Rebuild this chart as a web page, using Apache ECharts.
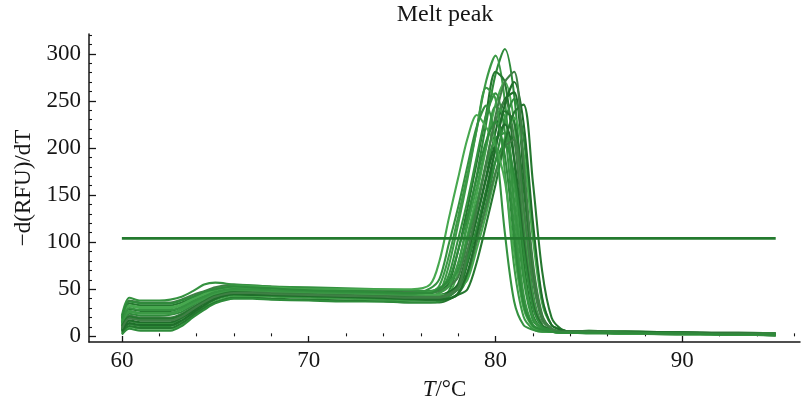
<!DOCTYPE html>
<html>
<head>
<meta charset="utf-8">
<script src="https://cdn.jsdelivr.net/npm/echarts@6/dist/echarts.min.js"></script>
<style>
  html, body { margin: 0; padding: 0; background: #fff; }
  #chart { width: 802px; height: 406px; }
</style>
</head>
<body>
<div id="chart"></div>
<script>
// Temperature grid (°C) shared by every melt curve
const temps = [60, 60.4, 61, 62, 62.6, 63.2, 63.8, 64.4, 65, 66, 67, 68, 70, 72, 74, 75.5, 76.5,
  77, 77.5, 78, 78.5, 79, 79.5, 80, 80.5, 81, 81.5, 82, 82.5, 83, 83.5, 84, 85, 87, 90, 93, 95];

// -d(RFU)/dT for each well
const well01 = [10, 24, 22, 22, 23, 26, 33, 40, 46, 50, 50, 49, 47, 46, 44, 43, 42, 43, 48, 76, 122, 171, 226, 278, 305, 256, 137, 46, 12, 7, 5, 5, 4, 4, 3, 3, 2];
const well02 = [6, 16, 14, 14, 14, 19, 27, 35, 41, 46, 46, 45, 44, 43, 42, 41, 41, 46, 75, 119, 167, 221, 271, 298, 250, 134, 45, 12, 7, 5, 5, 4, 4, 3, 3, 2, 2];
const well03 = [18, 35, 33, 33, 33, 36, 41, 47, 51, 54, 53, 52, 50, 49, 48, 47, 46, 49, 56, 91, 136, 185, 236, 281, 270, 187, 80, 23, 8, 5, 5, 4, 5, 4, 4, 3, 3];
const well04 = [3, 10, 8, 8, 8, 13, 22, 30, 37, 42, 42, 42, 41, 40, 39, 38, 38, 39, 44, 68, 108, 151, 200, 246, 270, 227, 122, 41, 12, 7, 5, 4, 4, 3, 2, 2, 1];
const well05 = [14, 29, 27, 27, 27, 31, 37, 43, 47, 51, 50, 50, 48, 47, 46, 45, 44, 44, 47, 54, 84, 126, 170, 217, 252, 259, 173, 73, 21, 8, 5, 5, 5, 5, 4, 3, 3];
const well06 = [8, 20, 18, 18, 18, 22, 30, 37, 43, 47, 47, 46, 45, 44, 43, 42, 42, 47, 65, 103, 144, 191, 235, 258, 217, 116, 39, 12, 7, 5, 4, 4, 4, 3, 3, 2, 2];
const well07 = [20, 38, 36, 36, 36, 39, 44, 48, 52, 55, 54, 53, 51, 50, 49, 48, 47, 48, 53, 63, 100, 140, 185, 228, 250, 210, 113, 38, 12, 7, 5, 5, 6, 5, 4, 4, 3];
const well08 = [5, 13, 11, 11, 11, 16, 24, 32, 39, 44, 44, 43, 42, 41, 40, 39, 39, 39, 40, 45, 63, 101, 141, 186, 229, 252, 212, 113, 38, 12, 7, 5, 5, 4, 3, 3, 2];
const well09 = [12, 27, 25, 25, 25, 29, 35, 41, 45, 49, 48, 48, 46, 45, 44, 43, 43, 46, 53, 78, 118, 159, 203, 244, 233, 162, 69, 20, 8, 5, 5, 4, 4, 4, 3, 2, 2];
const well10 = [4, 11, 9, 9, 9, 14, 22, 30, 36, 41, 41, 40, 39, 38, 37, 36, 36, 36, 39, 46, 77, 115, 156, 199, 239, 228, 158, 67, 19, 8, 5, 5, 5, 4, 3, 3, 2];
const well11 = [16, 32, 30, 30, 30, 33, 39, 44, 49, 52, 51, 50, 48, 47, 46, 45, 44, 44, 45, 50, 60, 93, 130, 172, 211, 232, 195, 104, 35, 12, 7, 5, 6, 5, 4, 3, 3];
const well12 = [7, 17, 15, 15, 15, 20, 27, 35, 41, 45, 45, 44, 43, 42, 41, 40, 40, 41, 46, 56, 90, 126, 167, 205, 225, 189, 101, 34, 11, 7, 5, 4, 4, 3, 3, 2, 1];
const well13 = [22, 41, 38, 38, 39, 42, 48, 55, 57, 55, 54, 53, 52, 51, 50, 49, 48, 51, 58, 70, 105, 142, 181, 210, 216, 144, 61, 17, 8, 5, 4, 4, 4, 4, 3, 3, 2];
const well14 = [9, 22, 20, 20, 20, 24, 31, 38, 44, 48, 47, 47, 45, 44, 43, 42, 42, 42, 45, 52, 67, 101, 137, 174, 201, 209, 139, 59, 17, 8, 5, 5, 5, 4, 4, 3, 2];
const well15 = [2, 8, 6, 6, 6, 11, 20, 28, 35, 40, 40, 39, 38, 37, 37, 36, 36, 37, 42, 51, 82, 114, 151, 186, 204, 171, 92, 31, 10, 7, 5, 4, 3, 3, 2, 2, 1];
const well16 = [13, 26, 24, 24, 24, 28, 34, 40, 45, 49, 49, 48, 47, 46, 45, 45, 47, 54, 85, 127, 172, 220, 264, 252, 175, 74, 21, 8, 5, 5, 4, 4, 4, 3, 3, 2, 2];
const well17 = [11, 21, 19, 19, 19, 23, 30, 37, 43, 47, 46, 45, 44, 43, 42, 41, 40, 40, 40, 44, 50, 79, 119, 161, 206, 238, 246, 164, 69, 20, 8, 5, 5, 5, 4, 3, 3];
const well18 = [17, 33, 31, 31, 31, 34, 40, 45, 50, 53, 53, 52, 50, 50, 50, 50, 55, 80, 125, 168, 210, 235, 222, 202, 165, 90, 30, 10, 6, 5, 4, 4, 4, 3, 3, 2, 2];
const well19 = [6, 14, 12, 12, 12, 17, 25, 33, 40, 45, 44, 44, 43, 42, 41, 40, 39, 39, 40, 45, 68, 108, 151, 200, 246, 270, 227, 122, 41, 12, 7, 5, 5, 4, 4, 3, 2];
const well20 = [15, 30, 28, 28, 28, 31, 37, 42, 47, 50, 50, 49, 48, 47, 46, 45, 51, 61, 98, 137, 181, 223, 245, 206, 110, 37, 12, 7, 5, 5, 4, 4, 4, 3, 3, 2, 2];
const well21 = [8, 19, 17, 17, 17, 21, 29, 36, 42, 46, 46, 45, 44, 43, 42, 41, 41, 41, 44, 51, 90, 135, 183, 234, 270, 281, 186, 79, 23, 8, 5, 5, 5, 4, 3, 3, 2];
const well22 = [19, 37, 35, 35, 35, 38, 42, 47, 50, 53, 52, 51, 49, 48, 47, 46, 46, 51, 60, 91, 128, 169, 207, 228, 192, 103, 34, 11, 7, 5, 4, 4, 4, 4, 3, 2, 2];

const wells = [well01, well02, well03, well04, well05, well06, well07, well08, well09, well10, well11,
  well12, well13, well14, well15, well16, well17, well18, well19, well20, well21, well22];

// Horizontal threshold
const thresholdRange = [60, 95];
const thresholdValue = 104;

// Axis ticks
const xMajorTicks = [60, 70, 80, 90];
const xMinorTicks = [62, 64, 66, 68, 72, 74, 76, 78, 82, 84, 86, 88, 92, 94, 96];
const yMajorTicks = [0, 50, 100, 150, 200, 250, 300];
const yMinorTicks = [10, 20, 30, 40, 60, 70, 80, 90, 110, 120, 130, 140, 160, 170, 180, 190,
  210, 220, 230, 240, 260, 270, 280, 290, 310, 320];

const serif = '"Liberation Serif", "DejaVu Serif", serif';
const ink = '#161616';
const greens = ['#2e8b3a', '#3c9a46', '#25772f', '#47a84f', '#1f6e2a', '#359240', '#3f7f45'];

const chart = echarts.init(document.getElementById('chart'), null, { renderer: 'canvas' });

const curveSeries = wells.map((vals, i) => ({
  type: 'line',
  xAxisIndex: 0,
  yAxisIndex: 0,
  data: temps.map((t, j) => [t, vals[j]]),
  smooth: 0.3,
  showSymbol: false,
  symbol: 'none',
  silent: true,
  lineStyle: { color: greens[i % greens.length], width: 2.1 },
  z: 3
}));

const thresholdSeries = {
  type: 'line',
  xAxisIndex: 0,
  yAxisIndex: 0,
  data: thresholdRange.map(t => [t, thresholdValue]),
  showSymbol: false,
  symbol: 'none',
  silent: true,
  lineStyle: { color: '#237a2e', width: 2.6 },
  z: 4
};

const xBase = { type: 'value', min: 58.24, max: 96.3, splitLine: { show: false } };
const yBase = { type: 'value', min: -6, max: 321, splitLine: { show: false } };

chart.setOption({
  animation: false,
  backgroundColor: '#fff',
  grid: { left: 89, right: 2, top: 34, bottom: 58, containLabel: false },
  graphic: [{
    type: 'text',
    x: 445,
    y: 3,
    style: {
      text: 'Melt peak',
      font: '24px ' + serif,
      fill: ink,
      textAlign: 'center',
      textVerticalAlign: 'top'
    }
  }],
  xAxis: [
    Object.assign({}, xBase, {
      position: 'bottom',
      axisLine: { show: true, onZero: false, lineStyle: { color: ink, width: 1.5 } },
      axisTick: { show: true, inside: true, length: 6, customValues: xMajorTicks, lineStyle: { color: ink, width: 1.3 } },
      axisLabel: { show: true, customValues: xMajorTicks, fontFamily: serif, fontSize: 23, color: ink, margin: 7 },
      name: '{i|T}/°C',
      nameLocation: 'middle',
      nameGap: 36,
      nameTextStyle: {
        fontFamily: serif, fontSize: 23, color: ink,
        rich: { i: { fontFamily: serif, fontSize: 23, fontStyle: 'italic', color: ink } }
      }
    }),
    Object.assign({}, xBase, {
      position: 'bottom',
      axisLine: { show: false },
      axisTick: { show: true, inside: true, length: 3, customValues: xMinorTicks, lineStyle: { color: ink, width: 1.1 } },
      axisLabel: { show: false }
    })
  ],
  yAxis: [
    Object.assign({}, yBase, {
      position: 'left',
      axisLine: { show: true, onZero: false, lineStyle: { color: ink, width: 1.5 } },
      axisTick: { show: true, inside: true, length: 7, customValues: yMajorTicks, lineStyle: { color: ink, width: 1.3 } },
      axisLabel: { show: true, customValues: yMajorTicks, fontFamily: serif, fontSize: 23, color: ink, margin: 8 },
      name: '\u2212d(RFU)/dT',
      nameLocation: 'middle',
      nameGap: 52,
      nameRotate: 90,
      nameTextStyle: { fontFamily: serif, fontSize: 23, color: ink }
    }),
    Object.assign({}, yBase, {
      position: 'left',
      axisLine: { show: false },
      axisTick: { show: true, inside: true, length: 3, customValues: yMinorTicks, lineStyle: { color: ink, width: 1.1 } },
      axisLabel: { show: false }
    })
  ],
  series: curveSeries.concat([thresholdSeries])
});
</script>
</body>
</html>
